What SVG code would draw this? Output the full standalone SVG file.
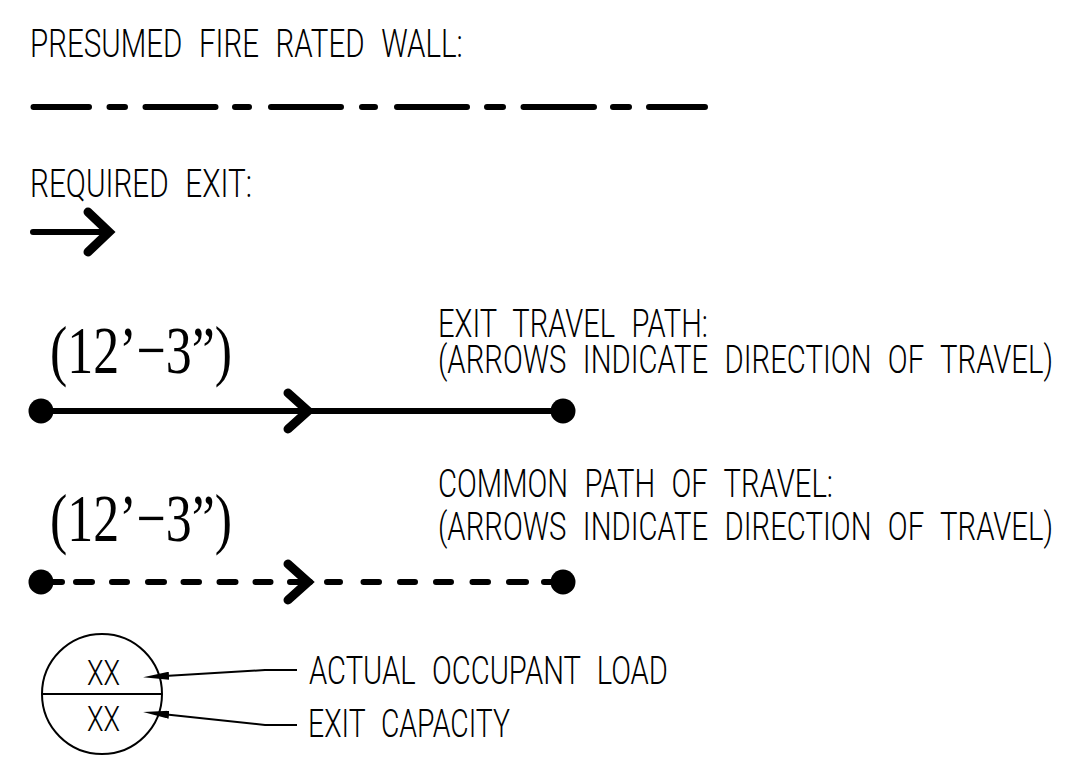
<svg xmlns="http://www.w3.org/2000/svg" width="1079" height="761" viewBox="0 0 1079 761">
<style>
.t{font-family:Roboto,"DejaVu Sans Condensed",sans-serif;font-weight:300;font-size:38px;word-spacing:12px;fill:#000}
.d{font-family:"Liberation Serif","DejaVu Serif",serif;font-size:68px;fill:#000}
.x{font-family:Roboto,"DejaVu Sans Condensed",sans-serif;font-weight:300;font-size:36px;fill:#000}
.thick{stroke:#000;stroke-width:6;stroke-linecap:round;fill:none}
.chev{stroke:#000;stroke-width:9;stroke-linecap:round;stroke-linejoin:miter;fill:none}
.thin{stroke:#000;stroke-width:2;fill:none}
</style>
<defs>
<marker id="ah" viewBox="0 0 26 8" refX="0" refY="4" markerWidth="26" markerHeight="8" markerUnits="userSpaceOnUse" orient="auto">
<path d="M26,4 L0,0 L0,8 Z" fill="#000"/>
</marker>
</defs>
<rect width="1079" height="761" fill="#fff"/>

<g id="fire-wall">
<text class="t" transform="translate(30,57) scale(0.8,1)" textLength="541" lengthAdjust="spacingAndGlyphs">PRESUMED FIRE RATED WALL:</text>
<path class="thick" d="M33.5,107H89M109.5,107H125M145.5,107H215.5M235,107H249M271,107H341M362,107H375M397,107H467M487,107H503M523.5,107H594M613,107H629M649,107H705"/>
</g>

<g id="required-exit">
<text class="t" transform="translate(30,197) scale(0.8,1)" textLength="277.5" lengthAdjust="spacingAndGlyphs">REQUIRED EXIT:</text>
<path class="thick" d="M33,232H108"/>
<path class="chev" d="M88,212L109,232L88,252"/>
</g>

<g id="exit-travel-path">
<text class="d" transform="translate(50,373) scale(0.8,1)" textLength="227.5" lengthAdjust="spacingAndGlyphs">(12’−3”)</text>
<text class="t" transform="translate(438,337) scale(0.8,1)" textLength="337.5" lengthAdjust="spacingAndGlyphs">EXIT TRAVEL PATH:</text>
<text class="t" transform="translate(438,373) scale(0.8,1)" textLength="768.75" lengthAdjust="spacingAndGlyphs">(ARROWS INDICATE DIRECTION OF TRAVEL)</text>
<path class="thick" d="M41,411H563"/>
<path class="chev" d="M288,393L308,411L288,429"/>
<circle cx="41" cy="411" r="12.5" fill="#000"/>
<circle cx="563" cy="411" r="12.5" fill="#000"/>
</g>

<g id="common-path">
<text class="d" transform="translate(50,541) scale(0.8,1)" textLength="227.5" lengthAdjust="spacingAndGlyphs">(12’−3”)</text>
<text class="t" transform="translate(438,497) scale(0.8,1)" textLength="493.75" lengthAdjust="spacingAndGlyphs">COMMON PATH OF TRAVEL:</text>
<text class="t" transform="translate(438,540) scale(0.8,1)" textLength="768.75" lengthAdjust="spacingAndGlyphs">(ARROWS INDICATE DIRECTION OF TRAVEL)</text>
<path class="thick" d="M41,582H62M76,582H92M112,582H127M148,582H164M183.5,582H199M219.5,582H235.5M255.5,582H270.5M290,582H310M327,582H340M363.5,582H379M400,582H415M436,582H451M472.5,582H488M509,582H526M544,582H563"/>
<path class="chev" d="M288,564L308,582L288,600"/>
<circle cx="41" cy="582" r="12.5" fill="#000"/>
<circle cx="563" cy="582" r="12.5" fill="#000"/>
</g>

<g id="occupant-symbol">
<circle class="thin" cx="102" cy="694" r="60"/>
<path class="thin" d="M42,694H162"/>
<text class="x" transform="translate(87,685) scale(0.8,1)" textLength="41.25" lengthAdjust="spacingAndGlyphs">XX</text>
<text class="x" transform="translate(87,731) scale(0.8,1)" textLength="41.25" lengthAdjust="spacingAndGlyphs">XX</text>
</g>

<g id="labels">
<text class="t" transform="translate(309,684) scale(0.8,1)" textLength="448.75" lengthAdjust="spacingAndGlyphs">ACTUAL OCCUPANT LOAD</text>
<text class="t" transform="translate(308,737) scale(0.8,1)" textLength="252.5" lengthAdjust="spacingAndGlyphs">EXIT CAPACITY</text>
</g>

<g id="connectors">
<path class="thin" d="M297,670H265L169,675.7" marker-end="url(#ah)"/>
<path class="thin" d="M297,725H265L169,714.7" marker-end="url(#ah)"/>
</g>
</svg>
